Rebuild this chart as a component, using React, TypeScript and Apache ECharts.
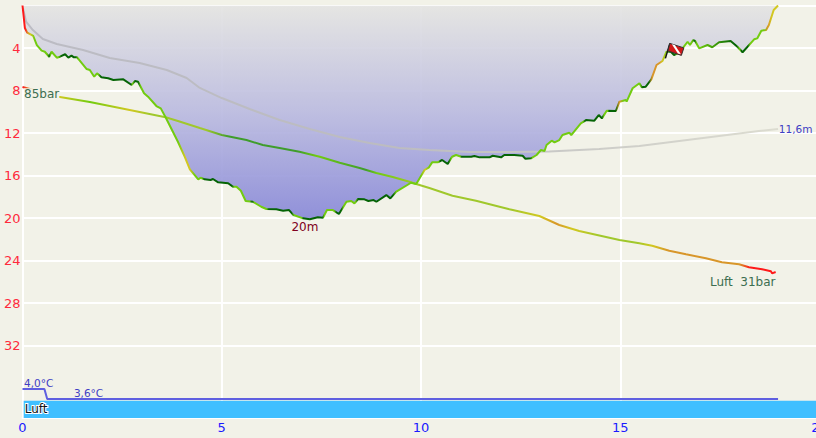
import React, { useEffect, useRef } from "react";
import * as echarts from "echarts";

const xTicks = [0, 5, 10, 15, 20];
const depthTicks = [0, 4, 8, 12, 16, 20, 24, 28, 32];

const depthTimes = [0,0.06,0.12,0.27,0.36,0.48,0.56,0.67,0.73,0.86,0.94,1.07,1.15,1.23,1.29,1.37,1.61,1.69,1.8,1.87,1.98,2.15,2.28,2.53,2.74,2.82,2.9,3.05,3.15,3.36,3.47,3.59,3.9,4.07,4.2,4.41,4.47,4.57,4.72,4.78,4.91,5.16,5.28,5.37,5.48,5.6,5.78,5.99,6.12,6.37,6.54,6.69,6.8,7.04,7.21,7.41,7.54,7.64,7.79,7.94,8.13,8.25,8.33,8.42,8.58,8.68,8.81,8.88,9.13,9.23,9.38,9.75,9.88,10.09,10.2,10.28,10.42,10.53,10.67,10.78,10.88,11.01,11.26,11.34,11.47,11.72,11.8,12.01,12.09,12.34,12.55,12.62,12.76,12.9,13.01,13.1,13.15,13.28,13.35,13.47,13.55,13.72,13.77,14.01,14.14,14.35,14.46,14.54,14.66,14.89,14.98,15.14,15.16,15.31,15.48,15.54,15.64,15.78,15.91,16.06,16.16,16.27,16.35,16.48,16.69,16.75,16.83,16.88,16.98,17.19,17.31,17.48,17.77,17.94,18.07,18.36,18.44,18.54,18.66,18.73,18.85,18.96];
const depthValues = [0,2.12,2.56,2.87,3.72,4.25,4.35,4.82,4.35,4.91,4.82,4.59,4.91,4.72,4.88,4.88,5.98,6.07,6.7,6.38,6.76,6.85,7.01,6.95,7.48,7.11,7.17,8.26,8.58,9.46,9.68,10.52,12.82,14.23,15.42,16.36,16.21,16.36,16.42,16.33,16.64,16.73,17.05,17.05,17.43,18.4,18.47,18.94,19.15,19.18,19.31,19.25,19.72,20.03,20.12,19.93,19.97,19.25,19.25,19.62,18.47,18.4,18.62,18.21,18.24,18.4,18.31,18.47,17.84,18.15,17.52,16.68,16.8,15.48,15.23,14.76,14.76,14.54,14.92,14.23,14.07,14.23,14.23,14.16,14.29,14.29,14.14,14.29,14.07,14.07,14.14,14.42,14.38,14.07,13.6,13.69,13.13,12.72,12.88,12.66,12.19,11.97,12.19,11.09,10.78,10.84,10.31,10.62,9.9,9.93,9.05,8.89,9.05,7.79,7.32,7.7,7.64,6.95,5.6,5.22,4.35,4.35,4.66,4.44,3.41,3.72,3.25,3.34,4.03,3.72,3.93,3.46,3.34,3.88,4.4,3.18,3.09,2.37,2.31,1.84,0.42,0];
const depthRateTimes = [0,0.07,0.13,0.2,0.3,0.62,0.67,0.71,0.9,0.97,1.33,1.4,1.9,1.96,2.72,2.76,2.82,2.9,2.97,3.9,4.08,4.2,4.32,4.5,4.56,5.25,5.32,5.7,5.76,5.82,5.9,6.12,6.18,6.75,6.82,7.0,7.05,7.52,7.58,7.82,7.88,8.0,8.06,8.36,8.42,9.3,9.38,10.0,10.1,10.2,10.44,10.48,10.7,10.76,10.98,11.02,12.74,12.8,14.06,14.12,14.54,14.6,14.68,14.72,14.88,14.98,15.08,15.5,15.56,15.72,15.8,15.98,16.06,16.18,16.24,16.36,16.44,16.8,16.86,16.92,16.97,17.85,17.92,18.0,18.04,18.2,18.26,18.6,18.7,18.8,18.96];
const depthRateNames = ["R","R","O","Y","L","L","D","L","L","D","D","L","L","D","D","L","D","D","L","L","Y","Y","L","L","D","D","L","L","D","L","L","L","D","D","L","L","D","D","L","L","D","D","L","L","D","D","L","L","Y","L","L","D","D","L","L","D","D","L","L","D","D","L","L","D","D","O","L","L","D","D","O","O","Y","L","D","D","L","L","D","L","L","D","D","L","D","D","L","L","O","Y","Y"];

const pressureTimes = [0,0.9,1.69,2.69,3.59,3.9,4.45,5,5.62,6.03,6.45,6.95,7.46,7.96,8.46,8.88,9.29,9.71,9.88,10.21,10.79,11.38,11.97,12.22,12.97,13.47,13.97,14.98,15.48,15.8,16.23,16.65,17.15,17.55,17.98,18.23,18.56,18.78,18.81,18.9];
const pressureValues = [85,82.17,80.62,78.29,76.16,75.08,73.03,70.99,69.53,68.07,67.19,66.11,64.66,62.9,61.36,59.9,58.73,57.36,56.69,55.52,53.27,51.81,50.06,49.3,47.35,44.72,42.97,40.34,39.38,38.68,37.22,36.17,35,33.83,33.25,32.37,31.79,31.2,30.62,31];
const pressureRateTimes = [0,0.2,0.9,1.7,2.7,3.2,3.9,4.6,5.2,6.3,6.9,7.4,8.6,8.9,9.9,10.5,12.2,13,13.4,13.8,14.5,15.4,15.8,16.2,18,18.25,18.9];
const pressureRateNames = ["R","O","Y","L","Y","A","A","A","G","G","G","L","G","L","A","A","A","Y","O","Y","A","A","Y","O","O","R","R"];

const ceilingTimes = [0.01,0.09,0.26,0.51,0.86,1.52,2.19,2.94,3.62,4.12,4.45,5,5.7,6.45,7.21,7.96,8.71,9.46,10.21,11.22,12.22,13.22,14.47,15.48,16.48,17.48,18.48,18.96];
const ceilingValues = [0.24,1.52,2.31,3.15,3.62,4.19,4.94,5.41,6.07,6.82,7.76,8.71,9.74,10.78,11.62,12.38,12.94,13.41,13.6,13.79,13.79,13.74,13.51,13.22,12.75,12.28,11.81,11.62];

const tempTimes = [0, 0.55, 0.62, 18.96];
const tempValues = [4.0, 4.0, 3.6, 3.6];

const gasName = "Luft";
const gasBand = [37.2, 38.82];
const flagPoint = [16.17, 4.6];

const rateColors: Record<string, string> = {
  R: "#ff1a1a", O: "#d8962a", Y: "#d2c820", A: "#a0c82c", L: "#72cc10", G: "#3f9d2c", D: "#056405",
};

function pairs(xs: number[], ys: number[]) {
  return xs.map((x, i) => [x, ys[i]]);
}

function rateGradient(lineTimes: number[], times: number[], names: string[]) {
  const first = lineTimes[0];
  const span = lineTimes[lineTimes.length - 1] - first;
  return new echarts.graphic.LinearGradient(
    0, 0, 1, 0,
    times.map((t, i) => ({
      offset: (t - first) / span,
      color: rateColors[names[i]],
    }))
  );
}

function labelPoint(coord: number[], text: string, color: string, size: number, extra: any = {}) {
  return {
    coord,
    symbol: "circle",
    symbolSize: 0,
    label: {
      show: true,
      formatter: text,
      color,
      fontSize: size,
      fontFamily: "DejaVu Sans",
      position: "right",
      distance: 0,
      padding: 0,
      ...extra,
    },
  };
}

export default function App() {
  const ref = useRef<HTMLDivElement>(null);
  useEffect(() => {
    document.body.style.margin = "0";
    const chart = echarts.init(ref.current!, undefined, { renderer: "svg" });
    const hiddenAxis = (min: number, max: number) => ({
      type: "value", min, max, show: false, splitLine: { show: false },
    });
    chart.setOption({
      animation: false,
      backgroundColor: "#f2f2e8",
      grid: { left: 22.5, right: -3.5, top: 5.5, bottom: 20, containLabel: false, outerBoundsMode: "none" },
      xAxis: {
        type: "value", min: 0, max: 20, interval: 5,
        axisLine: { show: true, onZero: false, lineStyle: { color: "#ffffff", width: 2 } },
        axisTick: { show: false },
        axisLabel: { color: "#1a1aff", fontSize: 13, fontFamily: "DejaVu Sans", margin: 3, hideOverlap: false, showMaxLabel: true, formatter: (v: number) => (xTicks.includes(v) ? String(v) : "") },
        splitLine: { show: true, lineStyle: { color: "#ffffff", width: 2 } },
      },
      yAxis: [
        {
          type: "value", inverse: true, min: 0, max: 38.82,
          axisLine: { show: true, lineStyle: { color: "#ffffff", width: 2 } },
          axisTick: { show: false, customValues: depthTicks },
          axisLabel: {
            customValues: depthTicks,
            color: "#ff2a3c", fontSize: 13, fontFamily: "DejaVu Sans", margin: 2,
            formatter: (v: number) => (v === 0 ? "" : String(v)),
          },
          splitLine: { show: true, lineStyle: { color: "#ffffff", width: 2 } },
        },
        hiddenAxis(-11.61, 108.79),
        hiddenAxis(2.84, 19.34),
      ],
      series: [
        {
          name: "gas",
          type: "line",
          data: [],
          markArea: {
            silent: true,
            itemStyle: { color: "#40bfff" },
            label: {
              show: true, position: "insideLeft", distance: 1, color: "#111111",
              fontSize: 12, fontFamily: "DejaVu Sans",
              textBorderColor: "#ffffff", textBorderWidth: 2,
            },
            data: [[{ name: gasName, xAxis: 0.03, yAxis: gasBand[0] }, { xAxis: 20, yAxis: gasBand[1] }]],
          },
        },
        {
          name: "depthArea",
          type: "line",
          data: pairs(depthTimes, depthValues),
          showSymbol: false,
          lineStyle: { width: 0 },
          areaStyle: {
            origin: "start",
            opacity: 1,
            color: new echarts.graphic.LinearGradient(0, 0, 0, 1, [
              { offset: 0, color: "rgba(228,228,226,0.92)" },
              { offset: 0.5, color: "rgba(186,186,224,0.92)" },
              { offset: 1, color: "rgba(136,136,216,0.92)" },
            ]),
          },
          z: 2,
        },
        {
          name: "ceiling",
          type: "line",
          data: pairs(ceilingTimes, ceilingValues),
          showSymbol: false,
          lineStyle: {
            width: 2,
            color: new echarts.graphic.LinearGradient(0, 0, 1, 0, [
              { offset: 0, color: "#bcbcc4" },
              { offset: 0.5, color: "#bcbcc0" },
              { offset: 1, color: "#dcdcd0" },
            ]),
          },
          z: 3,
          markPoint: {
            data: [labelPoint([18.98, 11.62], "11,6m", "#3f3fc4", 10.5)],
            z: 6,
          },
        },
        {
          name: "pressure",
          type: "line",
          yAxisIndex: 1,
          data: pairs(pressureTimes, pressureValues),
          showSymbol: false,
          lineStyle: { width: 2, color: rateGradient(pressureTimes, pressureRateTimes, pressureRateNames) },
          z: 4,
          markPoint: {
            z: 7,
            data: [
              labelPoint([0.04, 82.9], "85bar", "#3c6e50", 12, { backgroundColor: "#f2f2e8" }),
              labelPoint([17.25, 28.2], "Luft  31bar", "#3c6e50", 12),
            ],
          },
        },
        {
          name: "depth",
          type: "line",
          data: pairs(depthTimes, depthValues),
          showSymbol: false,
          lineStyle: { width: 2, color: rateGradient(depthTimes, depthRateTimes, depthRateNames) },
          z: 5,
          markPoint: {
            z: 7,
            data: [labelPoint([6.75, 20.83], "20m", "#800020", 12)],
          },
        },
        {
          name: "temperature",
          type: "line",
          yAxisIndex: 2,
          data: pairs(tempTimes, tempValues),
          showSymbol: false,
          lineStyle: { width: 2, color: "#5f5fe0" },
          z: 5,
          markPoint: {
            z: 7,
            data: [
              labelPoint([0.04, 4.24], "4,0°C", "#3f3fc4", 10.5),
              labelPoint([1.29, 3.84], "3,6°C", "#3f3fc4", 10.5),
            ],
          },
        },
        {
          name: "flag",
          type: "custom",
          coordinateSystem: "cartesian2d",
          data: [flagPoint],
          z: 8,
          renderItem: (_: any, api: any) => {
            const p = api.coord([api.value(0), api.value(1)]);
            const x = p[0];
            const y = p[1];
            return {
              type: "group",
              children: [
                { type: "line", shape: { x1: x + 3, y1: y - 11, x2: x - 1.5, y2: y + 4 }, style: { stroke: "#111", lineWidth: 1.5 } },
                { type: "polygon", shape: { points: [[x + 3, y - 11], [x + 17, y - 6.5], [x + 14.5, y + 1], [x + 1, y - 3.5]] }, style: { fill: "#d01818", stroke: "#333", lineWidth: 1 } },
                { type: "polygon", shape: { points: [[x + 5, y - 10.2], [x + 8, y - 9.4], [x + 14, y - 0.2], [x + 11, y - 1]] }, style: { fill: "#ffffff" } },
              ],
            };
          },
        },
      ],
    });
    return () => chart.dispose();
  }, []);
  return <div ref={ref} style={{ width: 816, height: 438, overflow: "hidden" }} />;
}
